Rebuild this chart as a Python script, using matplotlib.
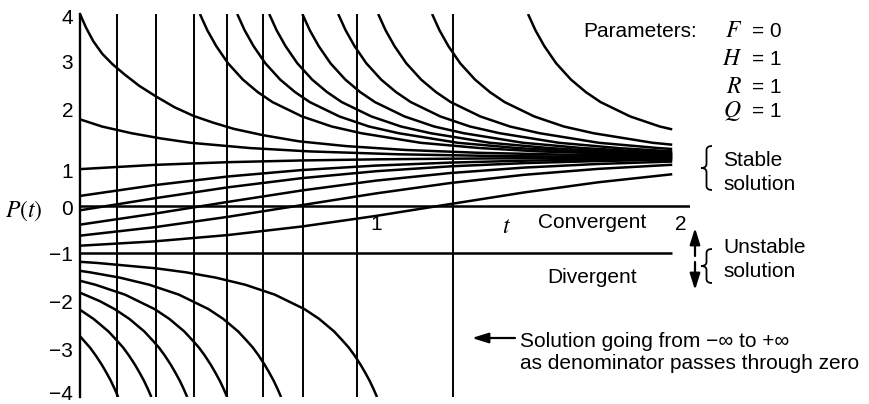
import numpy as np
import matplotlib
matplotlib.use("Agg")
import matplotlib.pyplot as plt
from matplotlib.path import Path
from matplotlib.patches import PathPatch
import matplotlib.transforms as mtransforms

plt.rcParams['font.family'] = ['Liberation Sans', 'DejaVu Sans']
plt.rcParams['mathtext.fontset'] = 'stix'

# ---------------- data ----------------
# times where denominators pass through zero (vertical asymptotes)
asymptote_t = [0.125, 0.256, 0.384, 0.496, 0.617, 0.752, 0.934, 1.258]

# solutions coming down from +infinity
a0_t = [0.0, 0.02, 0.045, 0.075, 0.11, 0.15, 0.2, 0.256, 0.32, 0.384, 0.45, 0.52, 0.617, 0.74, 0.9, 1.1, 1.35, 1.65, 2.0]
a0_p = [4.00, 3.72, 3.43, 3.17, 2.95, 2.74, 2.50, 2.28, 2.05, 1.87, 1.73, 1.60, 1.47, 1.34, 1.24, 1.16, 1.10, 1.06, 1.03]
a1_t = [0.405, 0.430, 0.460, 0.500, 0.550, 0.600, 0.650, 0.750, 0.850, 0.950, 1.150, 1.350, 1.550, 1.850, 2.0]
a1_p = [4.00, 3.66, 3.33, 2.97, 2.63, 2.37, 2.16, 1.86, 1.65, 1.51, 1.31, 1.20, 1.13, 1.07, 1.051]
a2_t = [0.531, 0.556, 0.586, 0.626, 0.676, 0.726, 0.776, 0.876, 0.976, 1.076, 1.276, 1.476, 1.676, 1.976, 2.0]
a2_p = [4.00, 3.66, 3.33, 2.97, 2.63, 2.37, 2.16, 1.86, 1.65, 1.51, 1.31, 1.20, 1.13, 1.07, 1.066]
a3_t = [0.639, 0.664, 0.694, 0.734, 0.784, 0.834, 0.884, 0.984, 1.084, 1.184, 1.384, 1.584, 1.784, 2.0]
a3_p = [4.00, 3.66, 3.33, 2.97, 2.63, 2.37, 2.16, 1.86, 1.65, 1.51, 1.31, 1.20, 1.13, 1.08]
a4_t = [0.751, 0.776, 0.806, 0.846, 0.896, 0.946, 0.996, 1.096, 1.196, 1.296, 1.496, 1.696, 1.896, 2.0]
a4_p = [4.00, 3.66, 3.33, 2.97, 2.63, 2.37, 2.16, 1.86, 1.65, 1.51, 1.31, 1.20, 1.13, 1.10]
a5_t = [0.872, 0.897, 0.927, 0.967, 1.017, 1.067, 1.117, 1.217, 1.317, 1.417, 1.617, 1.817, 2.0]
a5_p = [4.00, 3.66, 3.33, 2.97, 2.63, 2.37, 2.16, 1.86, 1.65, 1.51, 1.31, 1.20, 1.13]
a6_t = [1.007, 1.032, 1.062, 1.102, 1.152, 1.202, 1.252, 1.352, 1.452, 1.552, 1.752, 1.952, 2.0]
a6_p = [4.00, 3.66, 3.33, 2.97, 2.63, 2.37, 2.16, 1.86, 1.65, 1.51, 1.31, 1.20, 1.18]
a7_t = [1.189, 1.214, 1.244, 1.284, 1.334, 1.384, 1.434, 1.534, 1.634, 1.734, 1.934, 2.0]
a7_p = [4.00, 3.66, 3.33, 2.97, 2.63, 2.37, 2.16, 1.86, 1.65, 1.51, 1.31, 1.27]
a8_t = [1.513, 1.538, 1.568, 1.608, 1.658, 1.708, 1.758, 1.858, 1.958, 2.0]
a8_p = [4.00, 3.66, 3.33, 2.97, 2.63, 2.37, 2.16, 1.86, 1.65, 1.59]

# solution starting at 1.8
b0_t = [0.0, 0.074, 0.174, 0.274, 0.374, 0.574, 0.774, 1.074, 1.374, 1.674, 2.0]
b0_p = [1.80, 1.65, 1.51, 1.40, 1.31, 1.20, 1.13, 1.07, 1.037, 1.02, 1.011]

# solutions rising toward the stable value
rise_t = [0.0, 0.25, 0.5, 0.75, 1.0, 1.25, 1.5, 1.75, 2.0]
b1_p = [0.76, 0.848, 0.905, 0.941, 0.964, 0.978, 0.987, 0.992, 0.995]
t1_p = [0.20, 0.424, 0.606, 0.741, 0.834, 0.896, 0.936, 0.961, 0.976]
t2_p = [-0.10, 0.149, 0.380, 0.572, 0.716, 0.818, 0.885, 0.929, 0.956]
t3_p = [-0.40, -0.172, 0.076, 0.315, 0.520, 0.678, 0.792, 0.868, 0.918]
t4_p = [-0.63, -0.455, -0.236, 0.009, 0.253, 0.469, 0.641, 0.765, 0.851]
t5_p = [-0.84, -0.750, -0.617, -0.438, -0.217, 0.030, 0.273, 0.485, 0.653]

# divergent solutions going to -infinity
d1_t = [0.0, 0.058, 0.258, 0.358, 0.458, 0.558, 0.658, 0.758, 0.808, 0.858, 0.888, 0.908, 0.928, 0.948, 0.963, 0.978, 0.991, 1.003]
d1_p = [-1.176, -1.20, -1.313, -1.396, -1.506, -1.655, -1.862, -2.164, -2.37, -2.63, -2.83, -2.97, -3.14, -3.33, -3.49, -3.66, -3.83, -4.0]
d2_t = [0.0, 0.034, 0.134, 0.234, 0.334, 0.434, 0.484, 0.534, 0.564, 0.584, 0.604, 0.624, 0.639, 0.654, 0.667, 0.679]
d2_p = [-1.365, -1.396, -1.506, -1.655, -1.862, -2.164, -2.37, -2.63, -2.83, -2.97, -3.14, -3.33, -3.49, -3.66, -3.83, -4.0]
d3_t = [0.0, 0.052, 0.152, 0.252, 0.302, 0.352, 0.382, 0.402, 0.422, 0.442, 0.457, 0.472, 0.485, 0.497]
d3_p = [-1.572, -1.655, -1.862, -2.164, -2.37, -2.63, -2.83, -2.97, -3.14, -3.33, -3.49, -3.66, -3.83, -4.0]
d4_t = [0.0, 0.067, 0.117, 0.167, 0.217, 0.247, 0.267, 0.287, 0.307, 0.322, 0.337, 0.350, 0.362]
d4_p = [-1.821, -1.998, -2.164, -2.37, -2.63, -2.83, -2.97, -3.14, -3.33, -3.49, -3.66, -3.83, -4.0]
d5_t = [0.0, 0.046, 0.096, 0.126, 0.146, 0.166, 0.186, 0.201, 0.216, 0.229, 0.241]
d5_p = [-2.178, -2.37, -2.63, -2.83, -2.97, -3.14, -3.33, -3.49, -3.66, -3.83, -4.0]
d6_t = [0.0, 0.014, 0.034, 0.054, 0.074, 0.089, 0.104, 0.117, 0.129]
d6_p = [-2.73, -2.83, -2.97, -3.14, -3.33, -3.49, -3.66, -3.83, -4.0]

y_ticks = [-4, -3, -2, -1, 0, 1, 2, 3, 4]
y_tick_labels = ['\u22124', '\u22123', '\u22122', '\u22121', '0', '1', '2', '3', '4']
y_tick_marks = [-4, -3, -2, 1, 2, 3]

# ---------------- figure ----------------
W, H = 870, 404
fig = plt.figure(figsize=(W / 100, H / 100), dpi=100)
ax = fig.add_axes([80 / W, 7 / H, 610 / W, 383 / H])
ax.set_xlim(0, 2.06)
ax.set_ylim(-4, 4)
ax.patch.set_alpha(0)
for s in ['top', 'right', 'bottom']:
    ax.spines[s].set_visible(False)
ax.spines['left'].set_linewidth(1.7)

ax.set_xticks([])
ax.set_yticks(y_ticks)
ax.set_yticklabels(y_tick_labels, fontsize=15)
ax.tick_params(axis='y', which='major', length=0, pad=5)
ax.set_yticks(y_tick_marks, minor=True)
ax.tick_params(axis='y', which='minor', direction='in', length=7, width=1.4)

# label offsets as in the original drawing
label_shift = {'1': -13, '\u22124': 5, '4': -2, '0': -2}
for lab in ax.get_yticklabels():
    d = label_shift.get(lab.get_text())
    if d:
        lab.set_transform(lab.get_transform() +
                          mtransforms.ScaledTranslation(0, d / 100, fig.dpi_scale_trans))

LW = 1.8
K = 'black'
for ta in asymptote_t:
    ax.plot([ta, ta], [-4, 4], color=K, lw=1.4, solid_capstyle='butt')

ax.plot([0, 2.06], [0, 0], color=K, lw=1.8, solid_capstyle='butt')
ax.plot([0, 2.0], [-1, -1], color=K, lw=1.8, solid_capstyle='butt')

for tt, pp in [(a0_t, a0_p), (a1_t, a1_p), (a2_t, a2_p), (a3_t, a3_p), (a4_t, a4_p),
               (a5_t, a5_p), (a6_t, a6_p), (a7_t, a7_p), (a8_t, a8_p), (b0_t, b0_p),
               (rise_t, b1_p), (rise_t, t1_p), (rise_t, t2_p), (rise_t, t3_p),
               (rise_t, t4_p), (rise_t, t5_p),
               (d1_t, d1_p), (d2_t, d2_p), (d3_t, d3_p), (d4_t, d4_p), (d5_t, d5_p), (d6_t, d6_p)]:
    ax.plot(tt, pp, color=K, lw=LW, solid_joinstyle='round', solid_capstyle='butt')

# x labels along the t axis
ax.annotate('1', xy=(1.0, 0), xycoords='data', xytext=(0, -10), textcoords='offset pixels',
            ha='center', va='top', fontsize=15)
ax.annotate('2', xy=(2.0, 0), xycoords='data', xytext=(9, -10), textcoords='offset pixels',
            ha='center', va='top', fontsize=15)


def px(x, y):
    return (x / W, 1 - y / H)


fs = 15
fig.text(*px(507, 233), '$t$', fontsize=17, ha='center', va='baseline')
fig.text(*px(5, 217), '$P(t)$', fontsize=17, ha='left', va='baseline')

fig.text(*px(538, 228), 'Convergent', fontsize=fs, ha='left', va='baseline')
fig.text(*px(547, 283), 'Divergent', fontsize=fs, ha='left', va='baseline')

fig.text(*px(583, 37), 'Parameters:', fontsize=fs, ha='left', va='baseline')
for yb, s in [(37, '$F$'), (65, '$H$'), (93, '$R$'), (117, '$Q$')]:
    fig.text(*px(742, yb), s, fontsize=17, ha='right', va='baseline')
for yb, s in [(37, '= 0'), (65, '= 1'), (93, '= 1'), (117, '= 1')]:
    fig.text(*px(782, yb), s, fontsize=fs, ha='right', va='baseline')

fig.text(*px(723, 166), 'Stable', fontsize=fs, ha='left', va='baseline')
fig.text(*px(723, 190), 'solution', fontsize=fs, ha='left', va='baseline')
fig.text(*px(723, 253), 'Unstable', fontsize=fs, ha='left', va='baseline')
fig.text(*px(723, 277), 'solution', fontsize=fs, ha='left', va='baseline')

fig.text(*px(520, 347), 'Solution going from \u2212\u221e to +\u221e', fontsize=fs, ha='left', va='baseline')
fig.text(*px(520, 369), 'as denominator passes through zero', fontsize=fs, ha='left', va='baseline')

arrow_kw = dict(arrowstyle='-|>,head_length=0.7,head_width=0.22', color=K, lw=1.6,
                shrinkA=0, shrinkB=0, mutation_scale=14)
ax.annotate('', xy=px(695, 228), xycoords='figure fraction', xytext=px(695, 256),
            textcoords='figure fraction', arrowprops=arrow_kw, annotation_clip=False)
ax.annotate('', xy=px(695, 290), xycoords='figure fraction', xytext=px(695, 262),
            textcoords='figure fraction', arrowprops=arrow_kw, annotation_clip=False)
ax.annotate('', xy=px(472, 338), xycoords='figure fraction', xytext=px(515, 338),
            textcoords='figure fraction', arrowprops=arrow_kw, annotation_clip=False)


def brace(x0, x1, yt, yb):
    xm = (x0 + x1) / 2
    ym = (yt + yb) / 2
    r = 4
    pts = [(x1, yt), (xm, yt), (xm, yt + r), (xm, ym - r), (xm, ym), (x0, ym),
           (xm, ym), (xm, ym + r), (xm, yb - r), (xm, yb), (x1, yb)]
    codes = [Path.MOVETO, Path.CURVE3, Path.CURVE3, Path.LINETO, Path.CURVE3, Path.CURVE3,
             Path.CURVE3, Path.CURVE3, Path.LINETO, Path.CURVE3, Path.CURVE3]
    verts = [px(x, y) for x, y in pts]
    fig.patches.append(PathPatch(Path(verts, codes), transform=fig.transFigure,
                                 fill=False, lw=1.3, color=K))


brace(701, 712, 146, 190)
brace(701, 712, 249, 283)

fig.savefig('out.png', dpi=100)
